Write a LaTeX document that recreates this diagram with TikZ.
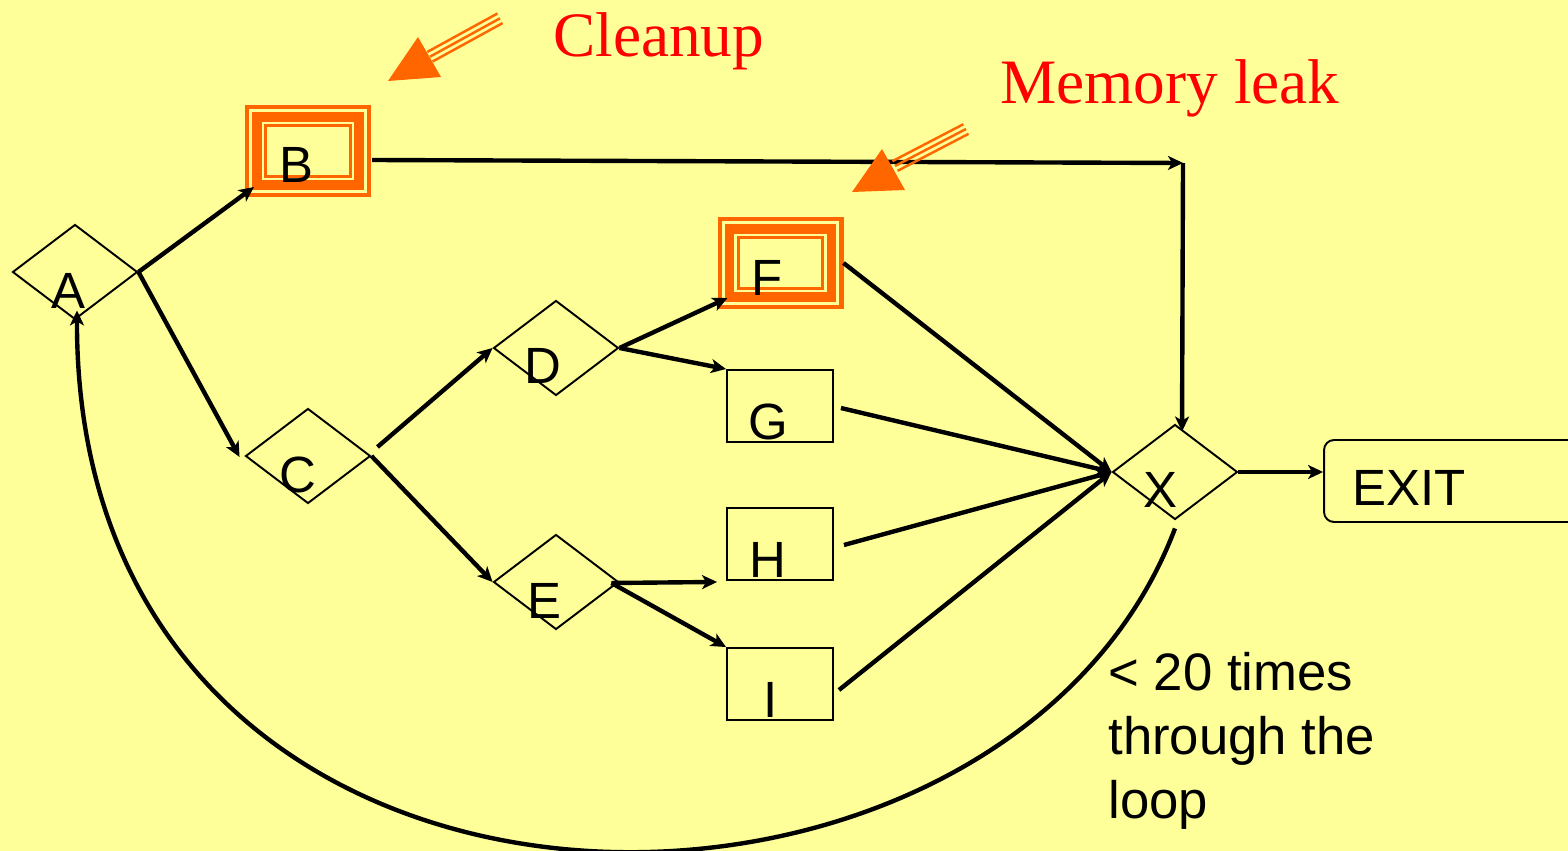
\documentclass[tikz,border=0pt]{standalone}
\usepackage{fontspec}
\setmainfont{Liberation Sans}
\newfontfamily\redserif{Liberation Serif}
\usetikzlibrary{arrows.meta,shapes.geometric}
\definecolor{bg}{HTML}{FFFF99}
\definecolor{org}{HTML}{FF6600}
\begin{document}
\begin{tikzpicture}[x=0.02cm,y=-0.02cm,
  dia/.style={draw,diamond,line width=1.1pt,minimum width=2.5cm,minimum height=1.9cm,inner sep=0pt},
  box/.style={draw,rectangle,line width=1.1pt,minimum width=2.12cm,minimum height=1.44cm,inner sep=0pt},
  trip/.style={draw=org,rectangle,line width=2.3pt,minimum width=2.44cm,minimum height=1.76cm,inner sep=0pt},
  exitbox/.style={draw,rectangle,rounded corners=0.2cm,line width=1.1pt,minimum width=6cm,minimum height=1.64cm,inner sep=0pt},
  lbl/.style={anchor=base,inner sep=0pt,font=\fontsize{29}{34}\selectfont},
  note/.style={inner sep=0pt,text=red,font=\redserif\fontsize{36}{40}\selectfont},
  conn/.style={line width=2.5pt,-{Stealth[length=0.3cm,width=0.28cm,inset=0.08cm]}},
  shaft/.style={org,line width=1.4pt},
  ahead/.style={fill=org}
]
\fill[bg] (0,0) rectangle (1568,851);
\useasboundingbox (0,0) rectangle (1568,851);

% decision diamonds
\node[dia] (A) at (75,272) {};
\node[dia] (C) at (308,456) {};
\node[dia] (D) at (556,348) {};
\node[dia] (E) at (556,582) {};
\node[dia] (X) at (1175,472) {};

% boxes
\node[trip] (B) at (308,151) {};
\node[trip] (F) at (780.5,263) {};
\node[box] (G) at (780,406) {};
\node[box] (H) at (780,544) {};
\node[box] (I) at (780,684) {};
\node[exitbox] (EXIT) at (1474,481) {};

\foreach \n in {B,F} {
  \draw[org,line width=5.4pt] ([shift={(12,12)}]\n.north west) rectangle ([shift={(-12,-12)}]\n.south east);
  \draw[org,line width=1.9pt] ([shift={(20.7,20.7)}]\n.north west) rectangle ([shift={(-20.7,-20.7)}]\n.south east);
}

% labels
\node[lbl] (Al) at (68,308) {A};
\node[lbl] (Bl) at (296,183) {B};
\node[lbl] (Cl) at (298,492) {C};
\node[lbl] (Dl) at (543,383) {D};
\node[lbl] (El) at (544,618) {E};
\node[lbl] (Fl) at (767,296) {F};
\node[lbl] (Gl) at (768,439) {G};
\node[lbl] (Hl) at (768,577) {H};
\node[lbl] (Il) at (771,717) {I};
\node[lbl] (Xl) at (1160,507) {X};
\node[lbl] (EXITl) at (1409,505) {EXIT};

% connectors
\coordinate (corner) at (1183,163);
\draw[conn] (A.east) -- ([shift={(9,-10)}]B.south west);
\draw[conn] (A.east) -- ([shift={(-5,1)}]C.west);
\draw[conn] ([shift={(6,-9)}]C.east) -- (D.west);
\draw[conn] (C.east) -- (E.west);
\draw[conn] (D.east) -- ([shift={(10,-11)}]F.south west);
\draw[conn] (D.east) -- (G.north west);
\draw[conn] ([shift={(-8,1)}]E.east) -- ([shift={(-9,1)}]H.south west);
\draw[conn] ([shift={(-8,1)}]E.east) -- (I.north west);
\draw[conn] ([shift={(1,9)}]B.east) -- (corner);
\draw[conn] (corner) -- ([shift={(7,8)}]X.north);
\draw[conn] (F.east) -- (X.west);
\draw[conn] ([shift={(7,2)}]G.east) -- (X.west);
\draw[conn] ([shift={(10,1)}]H.east) -- (X.west);
\draw[conn] ([shift={(5,6)}]I.east) -- (X.west);
\draw[conn] (X.east) -- (X.east -| EXIT.west);
\draw[conn] ([shift={(0,8)}]X.south) .. controls (1000,990) and (75,990) .. ([shift={(2,-10)}]A.south);

% loop note
\node[anchor=north west,inner sep=0pt,align=left,font=\fontsize{30}{36.5}\selectfont] (loopnote) at (1108,652) {< 20 times\\through the\\loop};

% annotations
\node[note,anchor=base west] (cleanup) at (553,57) {Cleanup};
\node[note,anchor=base west] (leak) at (1000,104) {Memory leak};

% orange pointer arrows
\fill[ahead] (388,81) -- (418,37) -- (441,77) -- cycle;
\foreach \s in {-1,0,1} {
  \draw[shaft] ([shift={(2.6*\s,4.8*\s)}]430,56.7) -- ([shift={(2.6*\s,4.8*\s)}]500,18.3);
}
\fill[ahead] (852,192) -- (882,149) -- (905,190) -- cycle;
\foreach \s in {-1,0,1} {
  \draw[shaft] ([shift={(2.6*\s,4.8*\s)}]895,166) -- ([shift={(2.6*\s,4.8*\s)}]966,129);
}
\end{tikzpicture}
\end{document}
